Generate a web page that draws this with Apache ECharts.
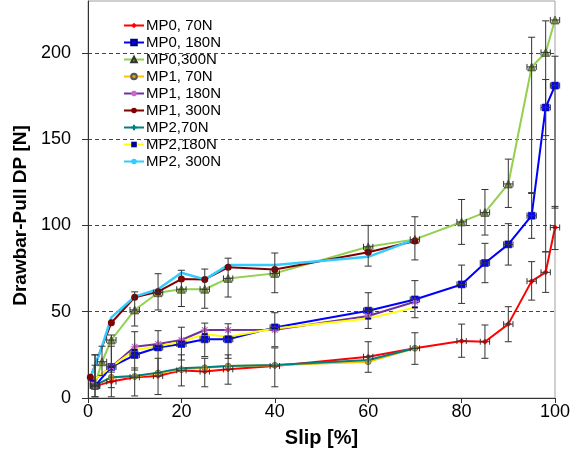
<!DOCTYPE html>
<html>
<head>
<meta charset="utf-8">
<script src="https://cdn.jsdelivr.net/npm/echarts@6/dist/echarts.min.js"></script>
<style>
  html, body { margin: 0; padding: 0; background: #fff; }
  #chart { width: 580px; height: 459px; }
</style>
</head>
<body>
<div id="chart"></div>
<script>
  // slip values (x) per series
  var slipMP0 = [1.5, 5, 10, 15, 20, 25, 30, 40, 60, 70, 80, 85, 90, 95, 98, 100];
  var slipMP0_300 = [1.5, 3, 5, 10, 15, 20, 25, 30, 40, 60, 70, 80, 85, 90, 95, 98, 100];
  var slipMP1_300 = [0.5, 5, 10, 15, 20, 25, 30, 40, 60, 70];
  var slipMP2_300 = [0.5, 3, 5, 10, 15, 20, 25, 30, 40, 60, 70];
  var slipMid = [1, 5, 10, 15, 20, 25, 30, 40, 60, 70];
  var slipLow = [1.5, 5, 10, 15, 20, 25, 30, 40, 60, 70];

  // drawbar-pull values [N]
  var mp0_70 = [7, 9.5, 12, 12.7, 16, 15.3, 16.6, 18.5, 23.9, 28.8, 33, 32.6, 42.8, 67.7, 72.8, 98.8];
  var mp0_180 = [7, 18, 24.9, 29.3, 31.3, 34, 34, 40.9, 50.6, 57.1, 65.8, 78.2, 89, 105.6, 168.3, 181];
  var mp0_300 = [8, 21, 33.6, 51, 61, 63, 63, 69.3, 72.2, 87.6, 91.9, 102, 107.5, 124, 191.8, 200.2, 219];
  var mp1_70 = [7, 12, 12.5, 14.5, 16.5, 17.5, 18.5, 19, 21, 28.8];
  var mp1_180 = [10, 18, 29.7, 31.3, 33.6, 39.4, 39.4, 39.5, 47.5, 55.8];
  var mp1_300 = [12, 43.6, 58.3, 61.6, 68.9, 68.7, 75.7, 74.5, 84.4, 91];
  var mp2_70 = [7.5, 12, 12.7, 14.7, 17.2, 17.8, 18.5, 19.1, 22, 28.8];
  var mp2_180 = [10, 18, 27.8, 30, 32.6, 37, 35.5, 40.3, 46, 52.5];
  var mp2_300 = [11.4, 30, 46.7, 58.7, 63, 72.6, 68.7, 77, 77, 81.8, 91.9];

  // error bar limits (MP0 series)
  var mp0_70Lo = [0.7, 0.7, 1.2, 2, 7, 6.5, 8, 6.5, 14.9, 19.5, 23.6, 23, 32.6, 56.7, 61.2, 86];
  var mp0_70Hi = [19, 19, 17.4, 23, 25, 23, 25, 29, 32.6, 37.8, 42.8, 42.3, 52.9, 79, 84.7, 111];
  var mp0_180Lo = [0.7, 6, 16.2, 14.5, 22, 24, 23, 29.7, 40.3, 46.5, 54.8, 66.8, 77, 92.5, 152, 110];
  var mp0_180Hi = [25, 30, 38.4, 39, 41, 43.4, 43, 49.4, 61, 68, 77, 89.6, 101, 118.5, 184.5, 198];
  var mp0_300Lo = [6.5, 13, 15, 41.7, 51, 53, 52, 58.5, 61, 76.4, 80, 89, 94.4, 110.4, 119, 84.7, 219];
  var mp0_300Hi = [25, 30, 36.5, 61.5, 72, 74, 74.7, 81, 84, 100, 105, 115, 120.8, 138.4, 209, 218.5, 219];

  var yTicks = [0, 50, 100, 150, 200];

  var font = '"Liberation Sans", Arial, sans-serif';

  function pairs(xs, ys) {
    return xs.map(function (x, i) { return [x, ys[i]]; });
  }
  function errData(xs, ys, lo, hi) {
    return xs.map(function (x, i) { return [x, ys[i], lo[i], hi[i]]; });
  }

  var asterisk = 'path://M0,5L10,5M5,0L5,10M1.5,1.5L8.5,8.5M8.5,1.5L1.5,8.5';
  var plus = 'path://M0,5L10,5M5,0L5,10';

  function lineSeries(name, data, color, symbol, size, extra) {
    var s = {
      name: name,
      type: 'line',
      data: data,
      symbol: symbol,
      symbolSize: size,
      showSymbol: symbol !== 'none',
      lineStyle: { color: color, width: 2 },
      itemStyle: { color: color },
      emphasis: { disabled: true },
      animation: false
    };
    if (extra) Object.assign(s, extra);
    return s;
  }

  function errorSeries(data) {
    return {
      type: 'custom',
      data: data,
      z: 5,
      silent: true,
      animation: false,
      encode: { x: 0, y: [1, 2, 3] },
      renderItem: function (params, api) {
        var x = api.value(0), y = api.value(1), lo = api.value(2), hi = api.value(3);
        var pLo = api.coord([x, lo]);
        var pHi = api.coord([x, hi]);
        var pL = api.coord([x - 1, y]);
        var pR = api.coord([x + 1, y]);
        var st = { stroke: '#333', lineWidth: 1 };
        var c = 3.5;
        var kids = [];
        if (hi > lo) {
          kids.push({ type: 'line', shape: { x1: pLo[0], y1: pLo[1], x2: pHi[0], y2: pHi[1] }, style: st });
          kids.push({ type: 'line', shape: { x1: pLo[0] - c, y1: pLo[1], x2: pLo[0] + c, y2: pLo[1] }, style: st });
          kids.push({ type: 'line', shape: { x1: pHi[0] - c, y1: pHi[1], x2: pHi[0] + c, y2: pHi[1] }, style: st });
        }
        kids.push({ type: 'line', shape: { x1: pL[0], y1: pL[1], x2: pR[0], y2: pR[1] }, style: st });
        kids.push({ type: 'line', shape: { x1: pL[0], y1: pL[1] - 3, x2: pL[0], y2: pL[1] + 3 }, style: st });
        kids.push({ type: 'line', shape: { x1: pR[0], y1: pR[1] - 3, x2: pR[0], y2: pR[1] + 3 }, style: st });
        return { type: 'group', children: kids };
      }
    };
  }

  var chart = echarts.init(document.getElementById('chart'), null, { renderer: 'canvas' });
  chart.setOption({
    backgroundColor: '#fff',
    animation: false,
    grid: {
      left: 88, right: 25, top: 1, bottom: 61,
      show: true, borderColor: '#a0a0a0', borderWidth: 1
    },
    legend: {
      orient: 'vertical',
      left: 118,
      top: 13,
      itemWidth: 20,
      itemHeight: 7,
      itemGap: 2,
      textStyle: { fontFamily: font, fontSize: 15, color: '#000', lineHeight: 15, padding: [0, 0, 0, -3] },
      data: ['MP0, 70N', 'MP0, 180N', 'MP0,300N', 'MP1, 70N', 'MP1, 180N', 'MP1, 300N', 'MP2,70N', 'MP2,180N', 'MP2, 300N']
    },
    xAxis: {
      type: 'value',
      min: 0,
      max: 100,
      interval: 20,
      name: 'Slip [%]',
      nameLocation: 'middle',
      nameGap: 30,
      nameTextStyle: { fontFamily: font, fontSize: 20, fontWeight: 'bold', color: '#000' },
      axisLine: { lineStyle: { color: '#333' } },
      axisTick: { show: true, length: 5, lineStyle: { color: '#333' } },
      axisLabel: { fontFamily: font, fontSize: 18, color: '#000', margin: 5 },
      splitLine: { show: false }
    },
    yAxis: {
      type: 'value',
      min: 0,
      max: 230,
      interval: 50,
      name: 'Drawbar-Pull DP [N]',
      nameLocation: 'middle',
      nameGap: 55,
      nameTextStyle: { fontFamily: font, fontSize: 19, fontWeight: 'bold', color: '#000', padding: [0, 32, 0, 0] },
      axisLine: { show: true, lineStyle: { color: '#333' } },
      axisTick: { show: true, length: 6, lineStyle: { color: '#333' }, customValues: yTicks },
      axisLabel: { fontFamily: font, fontSize: 18, color: '#000', margin: 17, customValues: yTicks },
      splitLine: { show: true, lineStyle: { color: '#444', type: [4, 3], width: 1 } }
    },
    series: [
      lineSeries('MP0, 70N', pairs(slipMP0, mp0_70), '#ff0000', 'diamond', 6),
      lineSeries('MP0, 180N', pairs(slipMP0, mp0_180), '#0000ff', 'rect', 7,
        { itemStyle: { color: '#0000ff', borderColor: '#000080', borderWidth: 0.5 } }),
      lineSeries('MP0,300N', pairs(slipMP0_300, mp0_300), '#92d050', 'triangle', 8,
        { itemStyle: { color: '#77933c', borderColor: '#333', borderWidth: 0.6 } }),
      lineSeries('MP1, 70N', pairs(slipLow, mp1_70), '#ffc000', 'circle', 6,
        { itemStyle: { color: '#d4a017', borderColor: '#555', borderWidth: 0.6 } }),
      lineSeries('MP1, 180N', pairs(slipMid, mp1_180), '#7030a0', asterisk, 8,
        { itemStyle: { color: '#cc66cc', borderColor: '#cc66cc', borderWidth: 1.2 } }),
      lineSeries('MP1, 300N', pairs(slipMP1_300, mp1_300), '#800000', 'circle', 7),
      lineSeries('MP2,70N', pairs(slipLow, mp2_70), '#008080', plus, 6,
        { itemStyle: { color: '#008080', borderColor: '#008080', borderWidth: 1 } }),
      lineSeries('MP2,180N', pairs(slipMid, mp2_180), '#ffff00', 'rect', [6, 2],
        { itemStyle: { color: '#000099' } }),
      lineSeries('MP2, 300N', pairs(slipMP2_300, mp2_300), '#33ccff', 'none', 0,
        { lineStyle: { color: '#33ccff', width: 2.5 } }),
      errorSeries(errData(slipMP0, mp0_70, mp0_70Lo, mp0_70Hi)),
      errorSeries(errData(slipMP0, mp0_180, mp0_180Lo, mp0_180Hi)),
      errorSeries(errData(slipMP0_300, mp0_300, mp0_300Lo, mp0_300Hi))
    ]
  });
</script>
</body>
</html>
